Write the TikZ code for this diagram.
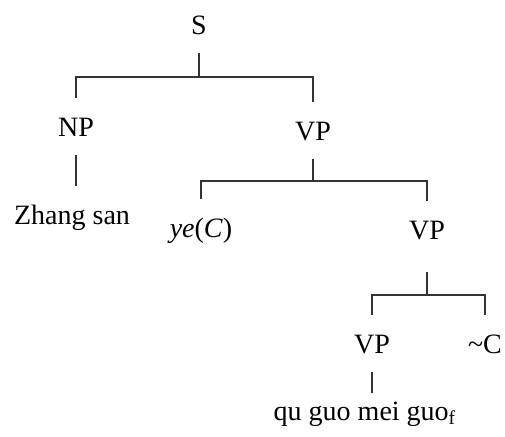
\documentclass[tikz,border=0pt]{standalone}
\usepackage{fontspec}
\setmainfont{Liberation Serif}
\usepackage{tikz}

\begin{document}
\begin{tikzpicture}[x=0.5pt, y=-0.5pt,
    lbl/.style={anchor=base, font=\fontsize{14}{16}\selectfont, inner sep=0pt,
        text height=9.3pt, text depth=0pt, outer xsep=0pt, outer ysep=9.5pt},
    branch/.style={line width=0.65pt, black!80}]
    \useasboundingbox (0,0) rectangle (505,436);

    \node[lbl] (S) at (199,34) {S};
    \node[lbl] (NP) at (76,136) {NP};
    \node[lbl] (VP) at (313,140) {VP};
    \node[lbl] (ZS) at (72,224) {Zhang san};
    \node[lbl] (ye) at (201,237) {\textit{ye}(\textit{C})};
    \node[lbl] (VPb) at (427,239) {VP};
    \node[lbl] (VPc) at (372,353) {VP};
    \node[lbl] (notC) at (485,353) {\textasciitilde C};
    \node[lbl] (qu) at (365,420) {qu guo mei guo\textsubscript{f}};

    \coordinate (b1) at (199,77);
    \coordinate (b2) at (313,181);
    \coordinate (b3) at (427,295);

    \draw[branch] (S.south) -- (b1);
    \draw[branch] (NP.north) |- (b1) -| (VP.north);
    \draw[branch] (NP.south) -- (NP.south |- ZS.north);
    \draw[branch] (VP.south) -- (b2);
    \draw[branch] (ye.north) |- (b2) -| (VPb.north);
    \draw[branch, shorten <=7pt] (VPb.south) -- (b3);
    \draw[branch] (VPc.north) |- (b3) -| (notC.north);
    \draw[branch, shorten >=-5.5pt] (VPc.south) -- (VPc.south |- qu.north);
\end{tikzpicture}
\end{document}
